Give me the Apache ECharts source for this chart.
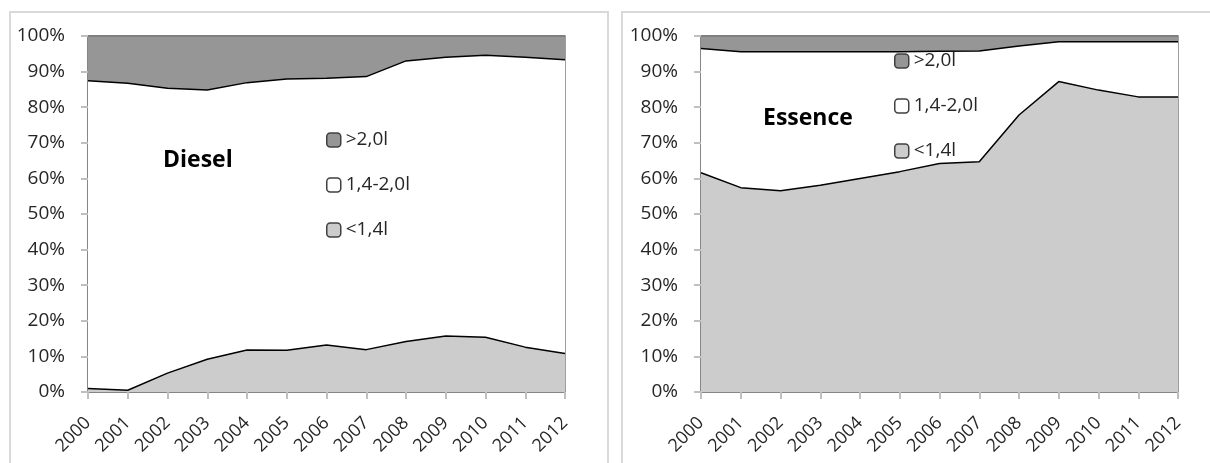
<!DOCTYPE html>
<html>
<head>
<meta charset="utf-8">
<script src="https://cdn.jsdelivr.net/npm/echarts@6/dist/echarts.min.js"></script>
<style>html,body{margin:0;padding:0;background:#fff;}#c{width:1210px;height:463px;}</style>
</head>
<body>
<div id="c"></div>
<script>
var years = ['2000','2001','2002','2003','2004','2005','2006','2007','2008','2009','2010','2011','2012'];
var yTicks = [0,10,20,30,40,50,60,70,80,90,100];
var seriesNames = ['<1,4l','1,4-2,0l','>2,0l'];
// Diesel shares (%)
var dieselSmall = [1.0, 0.5, 5.3, 9.2, 11.8, 11.7, 13.2, 11.9, 14.2, 15.7, 15.4, 12.6, 10.8];
var dieselMid   = [86.4, 86.2, 80.0, 75.6, 75.1, 76.2, 74.9, 76.7, 78.8, 78.3, 79.2, 81.4, 82.5];
var dieselLarge = [12.6, 13.3, 14.7, 15.2, 13.1, 12.1, 11.9, 11.4, 7.0, 6.0, 5.4, 6.0, 6.7];
// Essence shares (%)
var essenceSmall = [61.6, 57.4, 56.5, 58.1, 60.0, 61.9, 64.2, 64.7, 77.8, 87.2, 84.8, 82.9, 82.9];
var essenceMid   = [34.9, 38.2, 39.1, 37.5, 35.6, 33.7, 31.5, 31.1, 19.4, 11.2, 13.6, 15.5, 15.5];
var essenceLarge = [3.5, 4.4, 4.4, 4.4, 4.4, 4.4, 4.3, 4.2, 2.8, 1.6, 1.6, 1.6, 1.6];

var FONT = 'Open Sans';
var fills = {'<1,4l':'#cccccc','1,4-2,0l':'#ffffff','>2,0l':'#969696'};

function mkX(i){
  return {type:'category', gridIndex:i, data:years, boundaryGap:false,
    axisLine:{show:true, lineStyle:{color:'#868686', width:2}},
    axisTick:{show:true, length:7, lineStyle:{color:'#bfbfbf', width:2}, interval:0},
    axisLabel:{interval:0, rotate:45, margin:28, color:'#262626', fontFamily:FONT, fontSize:18},
    splitLine:{show:false}};
}
function mkY(i){
  return {type:'value', gridIndex:i, min:0, max:100, interval:10,
    axisLine:{show:true, lineStyle:{color:'#868686', width:2}},
    axisTick:{show:true, length:7, lineStyle:{color:'#bfbfbf', width:2}},
    axisLabel:{formatter:'{value}%', margin:23, color:'#262626', fontFamily:FONT, fontSize:19},
    splitLine:{show:false}};
}
function mkSeries(i, stack, small, mid, large){
  var data = [small, mid, large];
  return seriesNames.map(function(n, k){
    return {name:n, type:'line', xAxisIndex:i, yAxisIndex:i, stack:stack, data:data[k],
      symbol:'none', smooth:false,
      lineStyle:{color: k===2 ? '#7f7f7f' : '#000000', width: k===2 ? 2 : 1.5},
      itemStyle:{color:fills[n]},
      areaStyle:{color:fills[n], opacity:1}};
  });
}
function mkLegend(left, top){
  return {orient:'vertical', left:left, top:top, itemGap:25, itemWidth:14, itemHeight:14,
    icon:'roundRect', selectedMode:false, padding:0,
    textStyle:{fontFamily:FONT, fontSize:19, lineHeight:20, color:'#262626'},
    data: ['>2,0l','1,4-2,0l','<1,4l'].map(function(n){
      return {name:n, icon:'roundRect', itemStyle:{color:fills[n], borderColor:'#404040', borderWidth:1.5}};
    })};
}

var chart = echarts.init(document.getElementById('c'));
chart.setOption({
  animation:false,
  backgroundColor:'#ffffff',
  graphic:[
    {type:'rect', shape:{x:10, y:12, width:598, height:480}, style:{fill:'none', stroke:'#d9d9d9', lineWidth:2}, z:-10},
    {type:'rect', shape:{x:622, y:12, width:620, height:480}, style:{fill:'none', stroke:'#d9d9d9', lineWidth:2}, z:-10},
    {type:'text', x:163, y:160, z:100, style:{text:'Diesel', fontFamily:FONT, fontWeight:'bold', fontSize:23, fill:'#000', textAlign:'left', textVerticalAlign:'middle'}},
    {type:'text', x:763, y:118, z:100, style:{text:'Essence', fontFamily:FONT, fontWeight:'bold', fontSize:23, fill:'#000', textAlign:'left', textVerticalAlign:'middle'}}
  ],
  grid:[
    {left:88, top:36, width:477, height:356, show:true, borderColor:'#7f7f7f', borderWidth:1.5, backgroundColor:'transparent'},
    {left:701, top:36, width:477, height:356, show:true, borderColor:'#7f7f7f', borderWidth:1.5, backgroundColor:'transparent'}
  ],
  xAxis:[mkX(0), mkX(1)],
  yAxis:[mkY(0), mkY(1)],
  legend:[mkLegend(326, 130), mkLegend(894, 51)],
  series: mkSeries(0,'d',dieselSmall,dieselMid,dieselLarge).concat(mkSeries(1,'e',essenceSmall,essenceMid,essenceLarge))
});
</script>
</body>
</html>
